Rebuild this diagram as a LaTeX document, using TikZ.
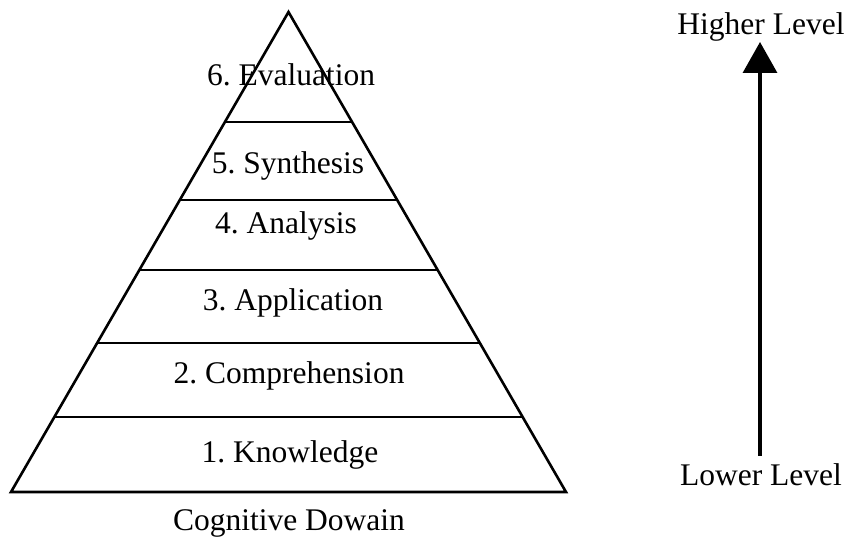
\documentclass[tikz,border=0pt]{standalone}
\usepackage{fontspec}
\setmainfont{Liberation Serif}
\usetikzlibrary{calc,arrows.meta}
\frenchspacing
\begin{document}
\begin{tikzpicture}[x=1pt,y=-1pt,
  lbl/.style={anchor=base,inner sep=0pt,font=\fontsize{31.5}{37}\selectfont},
  pyr/.style={line width=2.6pt,line join=miter},
  levelarrow/.style={line width=3.4pt,-{Triangle[length=31pt,width=34pt]}}]
\useasboundingbox (0,0) rectangle (848,540);
% pyramid
\coordinate (apex) at (288.5,12);
\coordinate (bl) at (11,492);
\coordinate (br) at (566,492);
\draw[pyr] (bl) -- (apex) -- (br) -- cycle;
\foreach \t in {0.2292,0.3917,0.5375,0.6896,0.84375}{
  \draw[pyr] ($(apex)!\t!(bl)$) -- ($(apex)!\t!(br)$);
}
% labels
\node[lbl] (l6) at (291,86) {6. Evaluation};
\node[lbl] (l5) at (288,174) {5. Synthesis};
\node[lbl] (l4) at (286,233) {4. Analysis};
\node[lbl] (l3) at (293,310) {3. Application};
\node[lbl] (l2) at (289,383) {2. Comprehension};
\node[lbl] (l1) at (290,462) {1. Knowledge};
\node[lbl] (cap) at (289,530) {Cognitive Dowain};
% level arrow
\node[lbl] (high) at (761,35) {Higher Level};
\node[lbl] (low) at (761,485) {Lower Level};
\draw[levelarrow,shorten <=7pt] (low.north -| 760,0) -- (high.south -| 760,0);
\end{tikzpicture}
\end{document}
